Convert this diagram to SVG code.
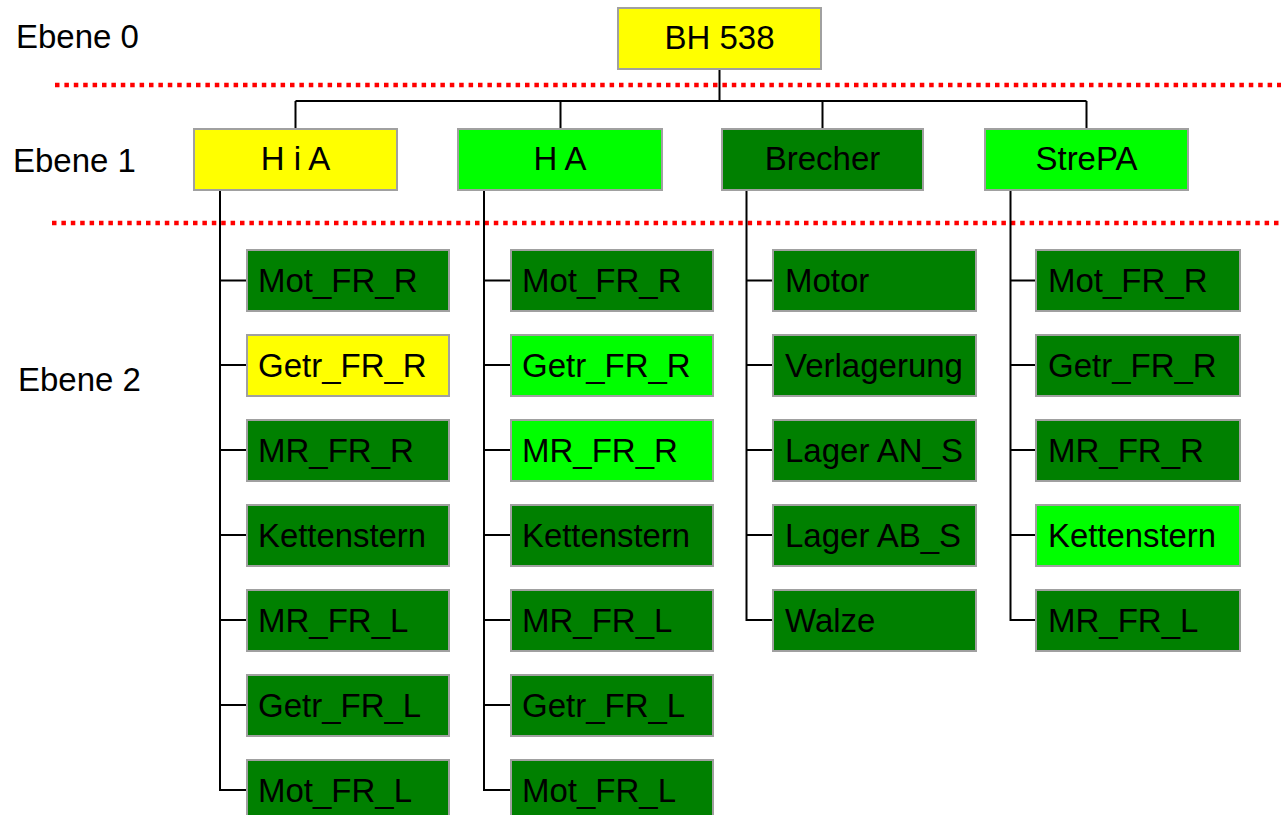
<svg xmlns="http://www.w3.org/2000/svg" width="1281" height="815" viewBox="0 0 1281 815">
<style>
text{font-family:"Liberation Sans",Arial,sans-serif;font-size:33px;fill:#000}
.b{stroke:#A0A0A0;stroke-width:2}
.y{fill:#FFFF00}.lg{fill:#00FF00}.dg{fill:#008000}
.c{text-anchor:middle}
.ln{stroke:#000;stroke-width:2;fill:none}
.sep{stroke:#FF0000;stroke-width:4.5;stroke-dasharray:4.5 4.9;fill:none}
</style>
<rect width="1281" height="815" fill="#fff"/>
<g id="labels">
<text x="16" y="48">Ebene 0</text>
<text x="13" y="172">Ebene 1</text>
<text x="18" y="391">Ebene 2</text>
</g>
<g id="separators">
<line class="sep" x1="55" y1="85" x2="1281" y2="85"/>
<line class="sep" x1="52" y1="223" x2="1281" y2="223"/>
</g>
<g id="connectors">
<path class="ln" d="M719.5 70V101M295.5 101H1086.5M295.5 101V129M560.5 101V129M822.5 101V129M1086.5 101V129"/>
<path class="ln" d="M220 190V790H247M220 280.5H247M220 365H247M220 450H247M220 535H247M220 620H247M220 705H247"/>
<path class="ln" d="M484 190V790H511M484 280.5H511M484 365H511M484 450H511M484 535H511M484 620H511M484 705H511"/>
<path class="ln" d="M746.5 190V620H773M746.5 280.5H773M746.5 365H773M746.5 450H773M746.5 535H773"/>
<path class="ln" d="M1010.5 190V620H1036M1010.5 280.5H1036M1010.5 365H1036M1010.5 450H1036M1010.5 535H1036"/>
</g>
<g id="n0"><rect class="b y" x="618" y="8" width="203" height="61"/><text class="c" x="719.5" y="49">BH 538</text></g>
<g id="n1"><rect class="b y" x="194" y="129" width="203" height="61"/><text class="c" x="295.5" y="170">H i A</text></g>
<g id="n2"><rect class="b lg" x="458" y="129" width="204" height="61"/><text class="c" x="560" y="170">H A</text></g>
<g id="n3"><rect class="b dg" x="722" y="129" width="201" height="61"/><text class="c" x="822.5" y="170">Brecher</text></g>
<g id="n4"><rect class="b lg" x="985" y="129" width="203" height="61"/><text class="c" x="1086.5" y="170">StrePA</text></g>

<g id="n1a"><rect class="b dg" x="247" y="250" width="202" height="61"/><text x="258" y="292">Mot_FR_R</text></g>
<g id="n1b"><rect class="b y" x="247" y="335" width="202" height="61"/><text x="258" y="377">Getr_FR_R</text></g>
<g id="n1c"><rect class="b dg" x="247" y="420" width="202" height="61"/><text x="258" y="462">MR_FR_R</text></g>
<g id="n1d"><rect class="b dg" x="247" y="505" width="202" height="61"/><text x="258" y="547" textLength="168" lengthAdjust="spacingAndGlyphs">Kettenstern</text></g>
<g id="n1e"><rect class="b dg" x="247" y="590" width="202" height="61"/><text x="258" y="632">MR_FR_L</text></g>
<g id="n1f"><rect class="b dg" x="247" y="675" width="202" height="61"/><text x="258" y="717">Getr_FR_L</text></g>
<g id="n1g"><rect class="b dg" x="247" y="760" width="202" height="61"/><text x="258" y="802">Mot_FR_L</text></g>

<g id="n2a"><rect class="b dg" x="511" y="250" width="202" height="61"/><text x="522" y="292">Mot_FR_R</text></g>
<g id="n2b"><rect class="b lg" x="511" y="335" width="202" height="61"/><text x="522" y="377">Getr_FR_R</text></g>
<g id="n2c"><rect class="b lg" x="511" y="420" width="202" height="61"/><text x="522" y="462">MR_FR_R</text></g>
<g id="n2d"><rect class="b dg" x="511" y="505" width="202" height="61"/><text x="522" y="547" textLength="168" lengthAdjust="spacingAndGlyphs">Kettenstern</text></g>
<g id="n2e"><rect class="b dg" x="511" y="590" width="202" height="61"/><text x="522" y="632">MR_FR_L</text></g>
<g id="n2f"><rect class="b dg" x="511" y="675" width="202" height="61"/><text x="522" y="717">Getr_FR_L</text></g>
<g id="n2g"><rect class="b dg" x="511" y="760" width="202" height="61"/><text x="522" y="802">Mot_FR_L</text></g>

<g id="n3a"><rect class="b dg" x="773" y="250" width="203" height="61"/><text x="785" y="292">Motor</text></g>
<g id="n3b"><rect class="b dg" x="773" y="335" width="203" height="61"/><text x="785" y="377">Verlagerung</text></g>
<g id="n3c"><rect class="b dg" x="773" y="420" width="203" height="61"/><text x="785" y="462">Lager AN_S</text></g>
<g id="n3d"><rect class="b dg" x="773" y="505" width="203" height="61"/><text x="785" y="547">Lager AB_S</text></g>
<g id="n3e"><rect class="b dg" x="773" y="590" width="203" height="61"/><text x="785" y="632">Walze</text></g>

<g id="n4a"><rect class="b dg" x="1036" y="250" width="204" height="61"/><text x="1048" y="292">Mot_FR_R</text></g>
<g id="n4b"><rect class="b dg" x="1036" y="335" width="204" height="61"/><text x="1048" y="377">Getr_FR_R</text></g>
<g id="n4c"><rect class="b dg" x="1036" y="420" width="204" height="61"/><text x="1048" y="462">MR_FR_R</text></g>
<g id="n4d"><rect class="b lg" x="1036" y="505" width="204" height="61"/><text x="1048" y="547" textLength="168" lengthAdjust="spacingAndGlyphs">Kettenstern</text></g>
<g id="n4e"><rect class="b dg" x="1036" y="590" width="204" height="61"/><text x="1048" y="632">MR_FR_L</text></g>
</svg>
